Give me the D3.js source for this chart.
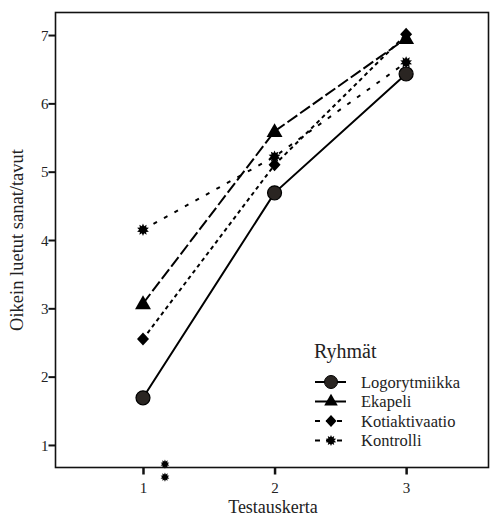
<!DOCTYPE html>
<html><head><meta charset="utf-8">
<script src="https://cdn.jsdelivr.net/npm/d3@7"></script>
<style>
body{margin:0;background:#fff;}
svg text{font-family:"Liberation Serif","Times New Roman",serif;fill:#222;}
</style></head>
<body><svg id="c" width="492" height="518" font-family="Liberation Serif"></svg>
<script>
const testauskerrat = [1, 2, 3];
const logorytmiikka = [1.69, 4.69, 6.43];
const ekapeli = [3.07, 5.59, 6.95];
const kotiaktivaatio = [2.55, 5.10, 7.01];
const kontrolli = [4.15, 5.22, 6.60];
const kontrolliExtraX = [1.167, 1.167];
const kontrolliExtraY = [0.72, 0.53];
const yTicks = [1, 2, 3, 4, 5, 6, 7];
const groupNames = ["Logorytmiikka", "Ekapeli", "Kotiaktivaatio", "Kontrolli"];

const svg = d3.select("#c");
const x = d3.scaleLinear().domain([0.335, 3.63]).range([55.5, 489]);
const y = d3.scaleLinear().domain([0.67, 7.33]).range([467.5, 12.5]);

function starPath(r1, r2, n) {
  const pts = [];
  for (let i = 0; i < 2 * n; i++) {
    const r = i % 2 === 0 ? r1 : r2;
    const a = Math.PI * i / n - Math.PI / 2;
    pts.push([r * Math.cos(a), r * Math.sin(a)]);
  }
  return "M" + pts.map(p => p[0].toFixed(2) + "," + p[1].toFixed(2)).join("L") + "Z";
}
const markers = {
  circle: g => g.append("circle").attr("r", 7).attr("fill", "#2a2522").attr("stroke", "#000").attr("stroke-width", 1.2),
  triangle: g => g.append("path").attr("d", d3.symbol(d3.symbolTriangle, 110)()).attr("transform", "translate(0,1)").attr("fill", "#000"),
  diamond: g => g.append("path").attr("d", "M0,-6.5L6,0L0,6.5L-6,0Z").attr("fill", "#000"),
  star: g => g.append("path").attr("d", starPath(6.2, 3.8, 10)).attr("fill", "#000")
};

const series = [
  {name: groupNames[0], vals: logorytmiikka, dash: null, m: "circle"},
  {name: groupNames[1], vals: ekapeli, dash: "12,3.5", m: "triangle"},
  {name: groupNames[2], vals: kotiaktivaatio, dash: "4,3.5", m: "diamond"},
  {name: groupNames[3], vals: kontrolli, dash: "4,8", m: "star"}
];

// frame
svg.append("rect").attr("x", 55.5).attr("y", 12.5).attr("width", 433).attr("height", 455)
  .attr("fill", "none").attr("stroke", "#111").attr("stroke-width", 1.6);

// y axis
const yAxis = d3.axisLeft(y).tickValues(yTicks).tickSize(7).tickSizeOuter(0).tickFormat(d3.format("d"));
const ya = svg.append("g").attr("transform", "translate(55.5,0)").call(yAxis);
ya.attr("font-family", "Liberation Serif");
ya.select(".domain").remove();
ya.selectAll(".tick line").attr("stroke", "#111").attr("stroke-width", 2);
ya.selectAll(".tick text").attr("font-size", 15).attr("x", -7).attr("dy", "0.35em");

// x axis
const xAxis = d3.axisBottom(x).tickValues(testauskerrat).tickSize(7).tickSizeOuter(0).tickFormat(d3.format("d"));
const xa = svg.append("g").attr("transform", "translate(0,467.5)").call(xAxis);
xa.attr("font-family", "Liberation Serif");
xa.select(".domain").remove();
xa.selectAll(".tick line").attr("stroke", "#111").attr("stroke-width", 2.5);
xa.selectAll(".tick text").attr("font-size", 15).attr("y", 15);

// axis titles
svg.append("text").attr("transform", "translate(23,240) rotate(-90)").attr("text-anchor", "middle")
  .attr("font-size", 18.5).text("Oikein luetut sanat/tavut");
svg.append("text").attr("x", 273).attr("y", 513).attr("text-anchor", "middle")
  .attr("font-size", 18).text("Testauskerta");

// lines
const line = d3.line().x((d, i) => x(testauskerrat[i])).y(d => y(d));
series.forEach(s => {
  svg.append("path").attr("d", line(s.vals)).attr("fill", "none").attr("stroke", "#000")
    .attr("stroke-width", 2).attr("stroke-dasharray", s.dash);
});
[series[3], series[0], series[2], series[1]].forEach(s => {
  s.vals.forEach((v, i) => {
    const g = svg.append("g").attr("transform", `translate(${x(testauskerrat[i])},${y(v)})`);
    markers[s.m](g);
  });
});
kontrolliExtraX.forEach((xv, i) => {
  const g = svg.append("g").attr("transform", `translate(${x(xv)},${y(kontrolliExtraY[i])})`);
  g.append("path").attr("d", starPath(4.6, 2.8, 10)).attr("fill", "#000");
});

// legend
const lg = svg.append("g");
lg.append("text").attr("x", 314).attr("y", 358).attr("font-size", 20).text("Ryhmät");
const legDash = [null, "14,4", "5,6", "5,6"];
series.forEach((s, i) => {
  const cy = 382 + i * 19.5;
  const g = lg.append("g").attr("transform", `translate(0,${cy})`);
  g.append("line").attr("x1", 315).attr("x2", 346).attr("y1", 0).attr("y2", 0)
    .attr("stroke", "#000").attr("stroke-width", 2).attr("stroke-dasharray", legDash[i]);
  const mg = g.append("g").attr("transform", "translate(331,0)");
  if (s.m === "circle") mg.append("circle").attr("r", 6.5).attr("fill", "#2a2522").attr("stroke", "#000");
  else if (s.m === "triangle") mg.append("path").attr("d", d3.symbol(d3.symbolTriangle, 80)()).attr("fill", "#000");
  else if (s.m === "diamond") mg.append("path").attr("d", "M0,-6L5.5,0L0,6L-5.5,0Z").attr("fill", "#000");
  else mg.append("path").attr("d", starPath(5.5, 3.3, 10)).attr("fill", "#000");
  g.append("text").attr("x", 361).attr("y", 0).attr("dy", "0.35em").attr("font-size", 16.5).text(s.name);
});
</script></body></html>
